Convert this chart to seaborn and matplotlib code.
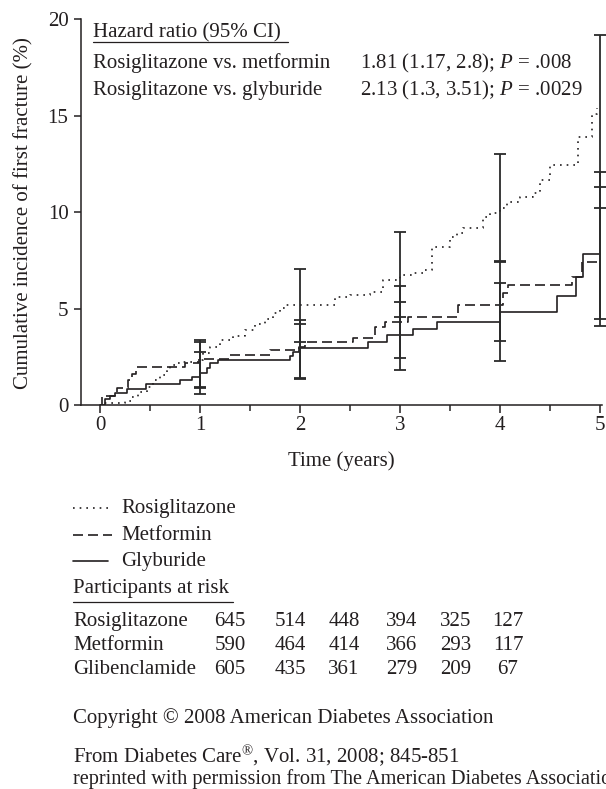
import matplotlib
matplotlib.use("Agg")
import matplotlib.pyplot as plt
from matplotlib.lines import Line2D
from matplotlib.ticker import MultipleLocator
import numpy as np
import seaborn as sns

# cumulative incidence (%)
rosi_t = [0.0, 0.03, 0.25, 0.32, 0.38, 0.47, 0.53, 0.60, 0.67, 0.70, 0.75, 0.83, 1.00, 1.03,
          1.10, 1.20, 1.33, 1.45, 1.55, 1.65, 1.73, 1.80, 1.85, 2.35, 2.50, 2.70, 2.83, 3.00,
          3.13, 3.23, 3.32, 3.50, 3.57, 3.63, 3.83, 3.90, 4.00, 4.07, 4.20, 4.33, 4.40, 4.50,
          4.78, 4.92, 4.97]
rosi_y = [0.0, 0.1, 0.22, 0.45, 0.7, 0.96, 1.31, 1.57, 1.83, 2.09, 2.18, 2.26, 2.35, 2.7,
          3.04, 3.4, 3.6, 3.9, 4.2, 4.45, 4.78, 5.06, 5.2, 5.63, 5.7, 5.89, 6.49, 6.75,
          6.84, 7.0, 8.2, 8.73, 8.91, 9.17, 9.77, 9.95, 10.2, 10.55, 10.8, 11.0, 11.67, 12.45,
          13.9, 15.1, 15.4]

met_t = [0.0, 0.02, 0.15, 0.17, 0.28, 0.32, 0.36, 0.85, 0.99, 1.29, 1.70, 1.99, 2.05, 2.53,
         2.75, 2.85, 3.08, 3.58, 4.03, 4.08, 4.72, 4.82, 5.0]
met_y = [0.0, 0.48, 0.65, 0.88, 1.3, 1.6, 2.0, 2.2, 2.38, 2.6, 2.87, 3.04, 3.3, 3.5,
         4.04, 4.3, 4.6, 5.2, 5.8, 6.23, 6.66, 7.44, 7.44]

gly_t = [0.0, 0.05, 0.10, 0.15, 0.27, 0.46, 0.80, 0.92, 1.00, 1.07, 1.10, 1.18, 1.90, 1.93,
         1.99, 2.68, 2.87, 3.13, 3.37, 4.00, 4.57, 4.76, 4.83, 5.0]
gly_y = [0.0, 0.31, 0.48, 0.65, 0.86, 1.09, 1.31, 1.48, 1.69, 1.92, 2.17, 2.35, 2.55, 2.78,
         2.97, 3.3, 3.64, 3.95, 4.33, 4.82, 5.68, 6.65, 7.82, 7.82]

# 95% CI bars at each year
ci_years = [1, 2, 3, 4, 5]
rosi_lo = [0.96, 3.3, 4.56, 7.5, 10.2]
rosi_hi = [3.38, 7.05, 8.96, 13.0, 19.2]
met_lo = [0.9, 1.4, 2.47, 3.35, 4.1]
met_hi = [3.3, 4.42, 6.18, 7.4, 12.1]
gly_lo = [0.58, 1.35, 1.83, 2.3, 4.46]
gly_hi = [2.78, 4.21, 5.34, 6.35, 11.3]

hr_rows = ["Rosiglitazone vs. metformin", "Rosiglitazone vs. glyburide"]
hr_vals = ["1.81 (1.17, 2.8); $P$ = .008", "2.13 (1.3, 3.51); $P$ = .0029"]

legend_names = ["Rosiglitazone", "Metformin", "Glyburide"]
risk_names = ["Rosiglitazone", "Metformin", "Glibenclamide"]
risk_counts = [[645, 514, 448, 394, 325, 127],
               [590, 464, 414, 366, 293, 117],
               [605, 435, 361, 279, 209, 67]]

ink = "#231f20"
sns.set_style("ticks")
plt.rcParams["font.family"] = ["Liberation Serif", "DejaVu Serif"]
plt.rcParams["mathtext.fontset"] = "custom"
plt.rcParams["mathtext.rm"] = "Liberation Serif"
plt.rcParams["mathtext.it"] = "Liberation Serif:italic"
plt.rcParams["text.color"] = ink
fs = 15

W, H = 606, 789
fig = plt.figure(figsize=(W / 100, H / 100), dpi=100)


def fx(px):
    return px / W


def fy(py):
    return 1 - py / H


ax = fig.add_axes([fx(81), fy(405.3), (602 - 81) / W, (405.3 - 19.3) / H])

styles = [(0, (1, 3)), (0, (6, 3)), "-"]
sns.lineplot(x=rosi_t, y=rosi_y, drawstyle="steps-post", color=ink, lw=1.2,
             linestyle=styles[0], ax=ax)
sns.lineplot(x=met_t, y=met_y, drawstyle="steps-post", color=ink, lw=1.2,
             linestyle=styles[1], ax=ax)
sns.lineplot(x=gly_t, y=gly_y, drawstyle="steps-post", color=ink, lw=1.2,
             linestyle=styles[2], ax=ax)

for lo, hi in [(rosi_lo, rosi_hi), (met_lo, met_hi), (gly_lo, gly_hi)]:
    lo = np.array(lo)
    hi = np.array(hi)
    mid = (lo + hi) / 2
    ax.errorbar(ci_years, mid, yerr=[mid - lo, hi - mid], fmt="none", ecolor="#2a2a2a",
                elinewidth=1.3, capsize=4, capthick=1.3, clip_on=False)

ax.set_xlim(-0.19, 5.02)
ax.set_ylim(0, 20)
ax.xaxis.set_major_locator(MultipleLocator(1))
ax.xaxis.set_minor_locator(MultipleLocator(0.5))
ax.yaxis.set_major_locator(MultipleLocator(5))
ax.tick_params(axis="x", which="major", length=6, width=1.1, pad=2, labelsize=fs, colors=ink)
ax.tick_params(axis="x", which="minor", length=4, width=1.1)
ax.tick_params(axis="y", length=5, width=1.1, pad=4, labelsize=fs, colors=ink)
sns.despine(ax=ax)
for s in ["left", "bottom"]:
    ax.spines[s].set_linewidth(1.1)
    ax.spines[s].set_color(ink)
ax.set_xlabel("")
ax.set_ylabel("")
ax.patch.set_alpha(0)

fig.text(fx(24), fy(213), "Cumulative incidence of first fracture (%)", rotation=90,
         ha="center", va="center", fontsize=fs)
fig.text(fx(341), fy(466), "Time (years)", ha="center", va="baseline", fontsize=fs)

# hazard ratio box
fig.text(fx(93), fy(37), "Hazard ratio (95% CI)", va="baseline", fontsize=fs)
fig.add_artist(Line2D([fx(93), fx(288)], [fy(41.5), fy(41.5)], color=ink, lw=0.9))
for i, (r, v) in enumerate(zip(hr_rows, hr_vals)):
    yb = [68, 95][i]
    fig.text(fx(93), fy(yb), r, va="baseline", fontsize=fs)
    fig.text(fx(360), fy(yb), v, va="baseline", fontsize=fs)

# legend
for i, name in enumerate(legend_names):
    yb = [513, 540, 566][i]
    x1 = 108 if i == 2 else 112
    fig.add_artist(Line2D([fx(73), fx(x1)], [fy(yb - 5), fy(yb - 5)], color=ink, lw=1.2,
                          linestyle=styles[i]))
    fig.text(fx(121), fy(yb), name, va="baseline", fontsize=fs)

# participants at risk
fig.text(fx(73), fy(593), "Participants at risk", va="baseline", fontsize=fs)
fig.add_artist(Line2D([fx(73), fx(233)], [fy(602), fy(602)], color=ink, lw=0.9))
col_x = [230, 290, 344, 402, 456, 508]
for i, name in enumerate(risk_names):
    yb = [626, 650, 674][i]
    fig.text(fx(73), fy(yb), name, va="baseline", fontsize=fs)
    for cx, n in zip(col_x, risk_counts[i]):
        fig.text(fx(cx), fy(yb), str(n), ha="center", va="baseline", fontsize=fs)

fig.text(fx(73), fy(723), "Copyright \u00a9 2008 American Diabetes Association",
         va="baseline", fontsize=fs)
fig.text(fx(73), fy(763), "From Diabetes Care$^{\u00ae}$, Vol. 31, 2008; 845-851",
         va="baseline", fontsize=fs)
fig.text(fx(73), fy(784), "reprinted with permission from The American Diabetes Association",
         va="baseline", fontsize=14.6)

fig.savefig("out.png", dpi=100)
